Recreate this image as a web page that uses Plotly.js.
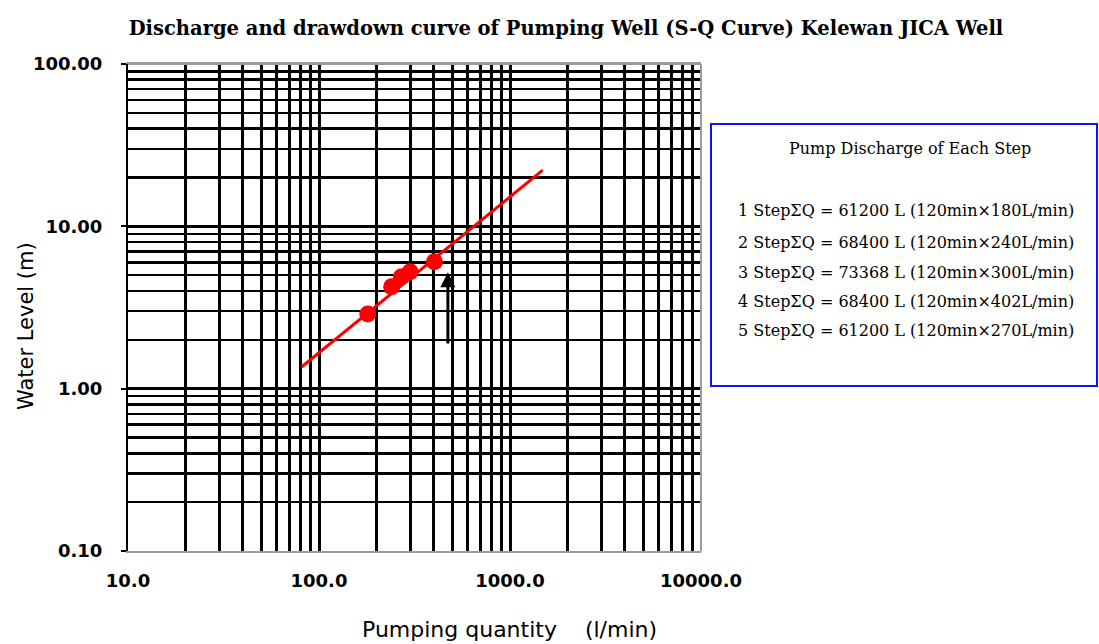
<!DOCTYPE html>
<html>
<head>
<meta charset="utf-8">
<script src="https://cdn.plot.ly/plotly-3.0.1.min.js"></script>
<style>html,body{margin:0;padding:0;background:#fff;}#chart{width:1099px;height:644px;}</style>
</head>
<body>
<div id="chart"></div>
<script>
// Data
const pumpQ = [180, 240, 270, 300, 402];          // pumping quantity (l/min)
const waterLevel = [2.88, 4.25, 4.89, 5.25, 6.05]; // drawdown (m)
const fitQ = [81, 1484];
const fitS = [1.36, 22.2];
const arrowQ = [473, 473];
const arrowS = [1.86, 5.22];
const xTickVals = [10, 100, 1000, 10000];
const xTickText = ['10.0', '100.0', '1000.0', '10000.0'];
const yTickVals = [0.1, 1, 10, 100];
const yTickText = ['0.10', '1.00', '10.00', '100.00'];
const xMinor = [20,30,40,50,60,70,80,90,200,300,400,500,600,700,800,900,2000,3000,4000,5000,6000,7000,8000,9000];
const yMinor = [0.2,0.3,0.4,0.5,0.6,0.7,0.8,0.9,2,3,4,5,6,7,8,9,20,30,40,50,60,70,80,90];
const chartTitle = 'Discharge and drawdown curve of Pumping Well (S-Q Curve) Kelewan JICA Well';
const xTitle = 'Pumping quantity\u00a0\u00a0\u00a0 (l/min)';
const yTitle = 'Water Level (m)';
const boxTitle = 'Pump Discharge of Each Step';
const boxLines = [
  '1 Step\u03a3Q = 61200 L (120min\u00d7180L/min)',
  '2 Step\u03a3Q = 68400 L (120min\u00d7240L/min)',
  '3 Step\u03a3Q = 73368 L (120min\u00d7300L/min)',
  '4 Step\u03a3Q = 68400 L (120min\u00d7402L/min)',
  '5 Step\u03a3Q = 61200 L (120min\u00d7270L/min)'
];

// pixel -> paper helpers (plot area 128..701 x, 64..551 y)
const L = 128, R = 701, T = 64, B = 551;
const px = v => (v - L) / (R - L);
const py = v => (B - v) / (B - T);

const traces = [
  {x: fitQ, y: fitS, mode: 'lines', line: {color: '#ff0000', width: 3}, hoverinfo: 'skip'},
  {x: pumpQ, y: waterLevel, mode: 'markers', marker: {color: '#ff0000', size: 17}}
];

const serif = 'DejaVu Serif, Liberation Serif, serif';
const sans = 'DejaVu Sans, Liberation Sans, Arial, sans-serif';

const annotations = [
  {x: Math.log10(arrowQ[1]), y: Math.log10(arrowS[1]), ax: Math.log10(arrowQ[0]), ay: Math.log10(arrowS[0]),
   xref: 'x', yref: 'y', axref: 'x', ayref: 'y', text: '', showarrow: true,
   arrowhead: 2, arrowsize: 1, arrowwidth: 3, arrowcolor: '#000'},
  {xref: 'paper', yref: 'paper', x: px(910), y: py(148), text: boxTitle, showarrow: false,
   xanchor: 'center', yanchor: 'middle', font: {family: serif, size: 16, color: '#000'}},
  {xref: 'paper', yref: 'paper', x: px(509), y: py(629), text: xTitle, showarrow: false,
   xanchor: 'center', yanchor: 'middle', font: {family: sans, size: 22, color: '#000'}},
  {xref: 'paper', yref: 'paper', x: px(26), y: py(326), text: yTitle, showarrow: false, textangle: -90,
   xanchor: 'center', yanchor: 'middle', font: {family: sans, size: 21, color: '#000'}}
];
const lineY = [210, 242, 272, 301, 330];
boxLines.forEach((t, i) => annotations.push({
  xref: 'paper', yref: 'paper', x: px(906), y: py(lineY[i]), text: t, showarrow: false,
  xanchor: 'center', yanchor: 'middle', font: {family: serif, size: 16, color: '#000'}
}));

const layout = {
  width: 1099, height: 644,
  margin: {l: L, r: 1099 - R, t: T, b: 644 - B},
  paper_bgcolor: '#fff', plot_bgcolor: '#fff',
  showlegend: false,
  title: {text: chartTitle, x: 566 / 1099, xref: 'container', xanchor: 'center',
          y: 1 - 28 / 644, yref: 'container', yanchor: 'middle',
          font: {family: serif, size: 19.5, color: '#000', weight: 'bold'}},
  xaxis: {type: 'log', range: [1, 4], tickmode: 'array', tickvals: xTickVals, ticktext: xTickText,
          ticks: '', showgrid: true, gridcolor: '#000', gridwidth: 3,
          minor: {tickmode: 'array', tickvals: xMinor, showgrid: true, gridcolor: '#000', gridwidth: 3, ticks: ''},
          showline: true, linecolor: '#999', linewidth: 2, mirror: true, zeroline: false,
          ticklabelstandoff: 12,
          tickfont: {family: sans, size: 18, color: '#000', weight: 'bold'}},
  yaxis: {type: 'log', range: [-1, 2], tickmode: 'array', tickvals: yTickVals, ticktext: yTickText,
          ticks: 'outside', ticklen: 5, tickwidth: 2, tickcolor: '#000',
          showgrid: true, gridcolor: '#000', gridwidth: 2.5,
          minor: {tickmode: 'array', tickvals: yMinor, showgrid: true, gridcolor: '#000', gridwidth: 2.5, ticks: ''},
          showline: true, linecolor: '#000', linewidth: 2, zeroline: false,
          ticklabelstandoff: 15,
          tickfont: {family: sans, size: 18, color: '#000', weight: 'bold'}},
  shapes: [
    {type: 'line', xref: 'paper', yref: 'paper', x0: 1, x1: 1, y0: 0, y1: 1, line: {color: '#999', width: 2}, layer: 'above'},
    {type: 'line', xref: 'paper', yref: 'paper', x0: 0, x1: 1, y0: 1, y1: 1, line: {color: '#999', width: 2}, layer: 'above'},
    {type: 'rect', xref: 'paper', yref: 'paper', x0: px(711), x1: px(1097), y0: py(386), y1: py(124),
     line: {color: '#1010ff', width: 2}, fillcolor: 'rgba(0,0,0,0)'}
  ],
  annotations: annotations
};

Plotly.newPlot('chart', traces, layout, {displayModeBar: false, staticPlot: true});
</script>
</body>
</html>
